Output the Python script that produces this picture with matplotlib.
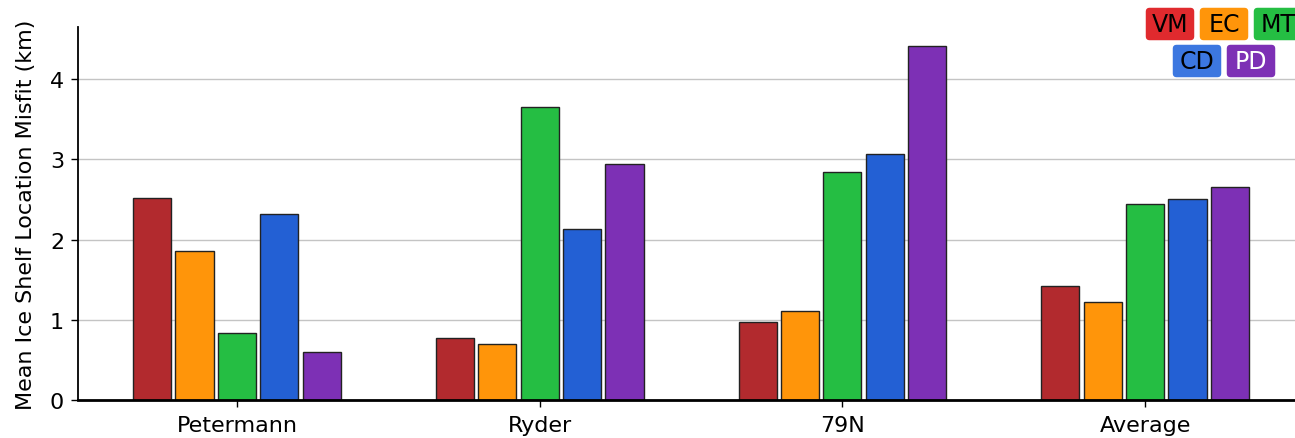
import matplotlib
matplotlib.use("Agg")
import matplotlib.pyplot as plt
from matplotlib.patches import FancyBboxPatch
import numpy as np

categories = ["Petermann", "Ryder", "79N", "Average"]
series_names = ["VM", "EC", "MT", "CD", "PD"]
VM = [2.52, 0.77, 0.97, 1.42]
EC = [1.86, 0.70, 1.11, 1.22]
MT = [0.835, 3.65, 2.84, 2.44]
CD = [2.32, 2.13, 3.07, 2.50]
PD = [0.60, 2.94, 4.41, 2.65]
values = [VM, EC, MT, CD, PD]
bar_colors = ["#b22a2e", "#ff950a", "#25be43", "#2360d4", "#7d30b5"]
legend_colors = ["#e02a2e", "#ff950a", "#25be43", "#3c77e0", "#7d30b5"]
legend_text_colors = ["black", "black", "black", "black", "white"]

plt.rcParams['font.family'] = ['DejaVu Sans']

W, H = 1295, 439
fig = plt.figure(figsize=(W / 100, H / 100), dpi=100)
ax = fig.add_axes([78 / W, 1 - 401 / H, 1 - 78 / W + 0.01, (401 - 28) / H])

x = np.arange(len(categories))
step = 0.14
width = 0.126
for i, (vals, c) in enumerate(zip(values, bar_colors)):
    ax.bar(x + (i - 2) * step, vals, width=width, color=c,
           edgecolor="#222222", linewidth=1.0, zorder=3)

ax.set_xlim(-0.525, 3.495 + 0.01 * W / 302.7)
ax.set_ylim(0, 4.65)
ax.set_yticks([0, 1, 2, 3, 4])
ax.set_xticks(x)
ax.set_xticklabels(categories)
ax.tick_params(axis='both', labelsize=16, length=5, width=1, color='black')
ax.tick_params(axis='x', pad=6)
ax.tick_params(axis='y', pad=5)
ax.yaxis.grid(True, color="#c4c4c4", linewidth=1, zorder=0)
ax.set_axisbelow(True)
for s in ["top", "right"]:
    ax.spines[s].set_visible(False)
ax.spines["left"].set_linewidth(1.3)
ax.spines["bottom"].set_linewidth(2)
ax.spines["bottom"].set_zorder(4)
ax.set_ylabel("Mean Ice Shelf Location Misfit (km)", fontsize=16, labelpad=10)

# legend chips (figure pixel coords)
chip_centers = [(1170, 25), (1224, 25), (1278, 25), (1197, 62), (1251, 62)]
cw, ch = 48, 32
for name, col, tc, (cx, cy) in zip(series_names, legend_colors, legend_text_colors, chip_centers):
    p = FancyBboxPatch(((cx - cw / 2 + 3) / W, 1 - (cy + ch / 2 - 3) / H),
                       (cw - 6) / W, (ch - 6) / H,
                       boxstyle="round,pad=0.0025,rounding_size=0.003",
                       transform=fig.transFigure, facecolor=col, edgecolor='none',
                       mutation_aspect=W / H, zorder=5)
    fig.add_artist(p)
    fig.text(cx / W, 1 - cy / H, name, ha='center', va='center', fontsize=17,
             color=tc, zorder=6)

fig.savefig("out.png", dpi=100)
